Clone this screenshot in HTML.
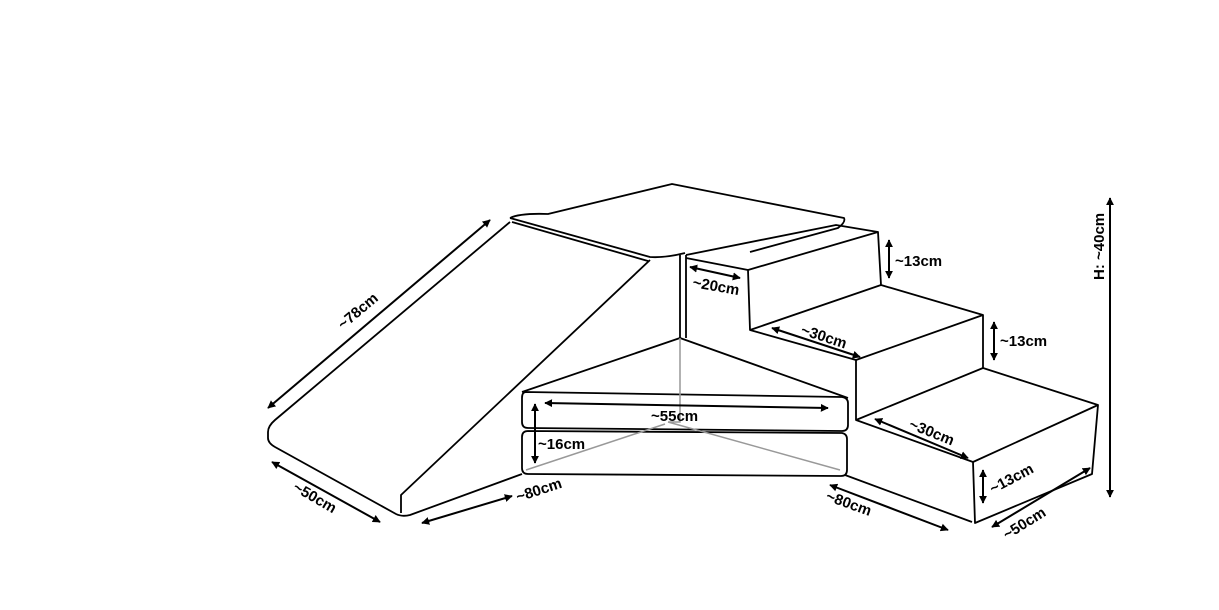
<!DOCTYPE html><html><head><style>body{margin:0;background:#fff}svg{display:block}text{font-family:"Liberation Sans",sans-serif;font-weight:bold;font-size:15px;fill:#000}</style></head><body>
<svg width="1219" height="610" viewBox="0 0 1219 610">
<defs><marker id="a" viewBox="0 0 10 10" refX="9" refY="5" markerWidth="4" markerHeight="4" orient="auto-start-reverse"><path d="M0,0L10,5L0,10z" fill="#000"/></marker></defs>
<g fill="none" stroke="#000" stroke-width="1.8" stroke-linejoin="round">
<path d="M510,222L275,420Q268,426 268,432L268,438Q268,443 275,447L396,514Q402,517 410,515L522,474"/>
<path d="M401,513L401,495L650,260"/>
<path d="M510,218Q520,213 548,214L672,184L844,218Q846,222 838,228L750,252"/>
<path d="M510,218L650,257Q665,258 685,253"/>
<path d="M512,222L648,261"/>
<path d="M680,255L680,338M686,255L686,338"/>
<path d="M686,255L836,225L878,232"/>
<path d="M686,258L748,270L878,232L881,285L983,315L983,368L1098,405L1092,474L975,523L973,462L856,420L856,360L750,330L748,270"/>
<path d="M750,330L881,285M856,360L983,315M856,420L983,368M973,462L1098,405"/>
<path d="M845,475L972,522"/>
<path d="M522,392L680,338L848,398"/>
<path d="M526,392L842,397Q848,398 848,403L848,425Q848,431 842,431L528,428Q522,428 522,422L522,398Q522,392 526,392z"/>
<path d="M528,431L842,433Q847,434 847,439L847,470Q847,476 841,476L528,474Q522,474 522,468L522,437Q522,431 528,431z"/>
</g>
<g fill="none" stroke="#999" stroke-width="1.5"><path d="M680,338L680,422L668,422M526,470L665,424M668,422L840,470"/></g>
<g stroke="#000" stroke-width="2" marker-start="url(#a)" marker-end="url(#a)">
<line x1="268" y1="408" x2="490" y2="220"/><line x1="272" y1="462" x2="380" y2="522"/>
<line x1="422" y1="523" x2="512" y2="496"/><line x1="830" y1="485" x2="948" y2="530"/>
<line x1="992" y1="527" x2="1090" y2="468"/><line x1="1110" y1="198" x2="1110" y2="497"/>
<line x1="889" y1="240" x2="889" y2="278"/><line x1="994" y1="322" x2="994" y2="360"/>
<line x1="983" y1="470" x2="983" y2="503"/><line x1="690" y1="267" x2="740" y2="278"/>
<line x1="772" y1="328" x2="860" y2="357"/><line x1="875" y1="419" x2="968" y2="458"/>
<line x1="545" y1="403" x2="828" y2="408"/><line x1="535" y1="404" x2="535" y2="463"/>
</g>
<text x="895" y="266">~13cm</text><text x="1000" y="346">~13cm</text>
<text x="538" y="449">~16cm</text><text x="651" y="421">~55cm</text>
<text transform="translate(343,330) rotate(-40)">~78cm</text>
<text transform="translate(292,490) rotate(30)">~50cm</text>
<text transform="translate(518,502) rotate(-18)">~80cm</text>
<text transform="translate(825,500) rotate(20)">~80cm</text>
<text transform="translate(1007,540) rotate(-32)">~50cm</text>
<text transform="translate(993,494) rotate(-28)">~13cm</text>
<text transform="translate(692,287) rotate(10)">~20cm</text>
<text transform="translate(800,334) rotate(18)">~30cm</text>
<text transform="translate(908,428) rotate(22)">~30cm</text>
<text transform="translate(1104,280) rotate(-90)">H: ~40cm</text>
</svg></body></html>
